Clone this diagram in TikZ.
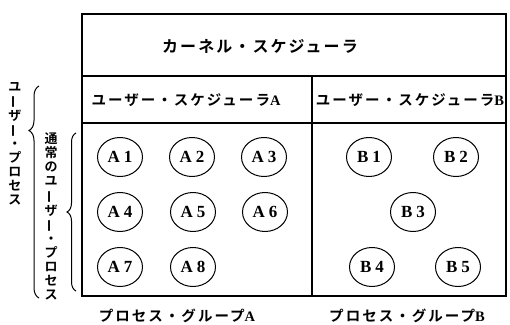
\documentclass[tikz,border=0pt]{standalone}
\usepackage{fontspec}
\usepackage{graphicx}
\usetikzlibrary{decorations.pathreplacing,shapes.geometric}
\newfontfamily\jp{Noto Sans CJK JP}[BoldFont=* Bold]
\newfontfamily\jpsp{Noto Sans CJK JP}[BoldFont=* Bold, LetterSpace=13]
\newfontfamily\jpsq{Noto Sans CJK JP}[BoldFont=* Bold, LetterSpace=14]
\newfontfamily\lat{Liberation Serif}
\newcommand{\vbar}{\rotatebox[origin=c]{90}{ー}}
\tikzset{
  frame/.style={line width=1.2pt},
  proc/.style={draw, line width=1pt, ellipse, minimum width=45pt, minimum height=39pt, inner sep=0pt, font=\lat\bfseries\fontsize{17}{17}\selectfont},
  ttl/.style={font=\jpsq\bfseries\fontsize{14.5}{14.5}\selectfont, inner sep=0pt},
  vtext/.style={font=\jp\bfseries\fontsize{13}{14}\selectfont, align=center, inner sep=0pt},
  brc/.style={decorate, line width=1pt}
}
\begin{document}
\begin{tikzpicture}[x=1pt,y=-1pt]
\useasboundingbox (0,0) rectangle (510,324);
% frame
\draw[frame] (82,14) rectangle (506,296);
\draw[frame] (82,76) -- (506,76);
\draw[frame] (82,123) -- (506,123);
\draw[frame] (312,76) -- (312,296);
% titles
\node[ttl, font=\jpsp\bfseries\fontsize{16}{16}\selectfont] (kern) at (260,46) {カーネル・スケジューラ};
\node[ttl] (usa) at (186,100) {ユーザー・スケジューラ{\lat\bfseries A}};
\node[ttl] (usb) at (410,100) {ユーザー・スケジューラ{\lat\bfseries B}};
\node[ttl] (pga) at (177,316) {プロセス・グループ{\lat\bfseries A}};
\node[ttl] (pgb) at (407,316) {プロセス・グループ{\lat\bfseries B}};
% processes A
\node[proc] (a1) at (120,157) {A\hspace{4pt}1};
\node[proc] (a2) at (192,157) {A\hspace{4pt}2};
\node[proc] (a3) at (264,157) {A\hspace{4pt}3};
\node[proc] (a4) at (120,212) {A\hspace{4pt}4};
\node[proc] (a5) at (193,212) {A\hspace{4pt}5};
\node[proc] (a6) at (265,212) {A\hspace{4pt}6};
\node[proc] (a7) at (120,267) {A\hspace{4pt}7};
\node[proc] (a8) at (193,267) {A\hspace{4pt}8};
% processes B
\node[proc] (b1) at (369,157) {B\hspace{4pt}1};
\node[proc] (b2) at (456,157) {B\hspace{4pt}2};
\node[proc] (b3) at (413,212) {B\hspace{4pt}3};
\node[proc] (b4) at (372,267) {B\hspace{4pt}4};
\node[proc] (b5) at (458,267) {B\hspace{4pt}5};
% left braces
\coordinate (ob1) at (39,298);
\coordinate (ob2) at (39,86);
\draw[brc, decoration={brace, amplitude=10pt, aspect=0.79}] (ob1) -- (ob2);
\coordinate (ib1) at (76,291);
\coordinate (ib2) at (76,133);
\draw[brc, decoration={brace, amplitude=9pt, aspect=0.5}] (ib1) -- (ib2);
% vertical texts
\node[vtext, anchor=north] (up) at (15,82) {ユ\\\vbar\\ザ\\\vbar\\・\\プ\\ロ\\セ\\ス};
\node[vtext, anchor=north] (nup) at (51,133) {通\\常\\の\\ユ\\\vbar\\ザ\\\vbar\\・\\プ\\ロ\\セ\\ス};
\end{tikzpicture}
\end{document}
